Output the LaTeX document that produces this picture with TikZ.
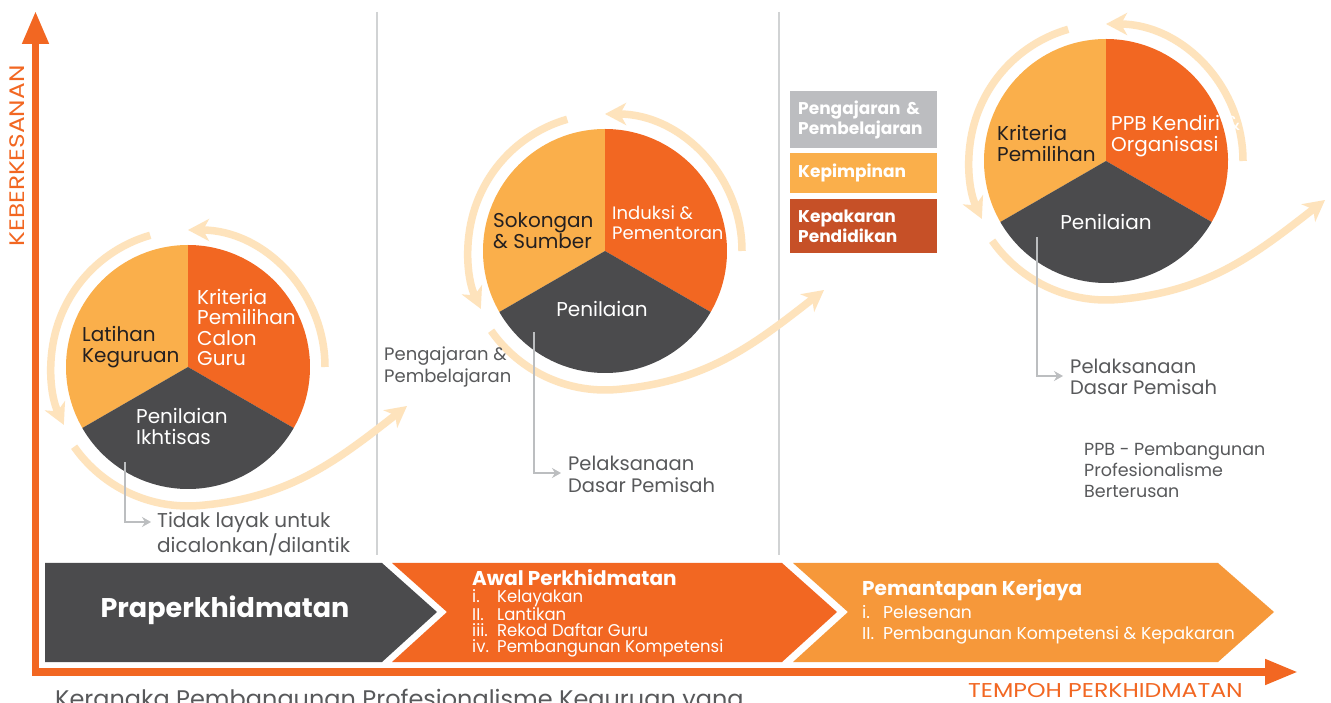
\documentclass[tikz,border=0pt]{standalone}
\usepackage{fontspec}
\setmainfont{Poppins}
\newfontfamily\condfont[FakeStretch=0.97]{Poppins}
\newfontfamily\widefont[FakeStretch=1.18]{Poppins}
\usetikzlibrary{arrows.meta,calc}
\definecolor{orng}{HTML}{F26722}
\definecolor{plight}{HTML}{FAAF4B}
\definecolor{pdark}{HTML}{4B4B4D}
\definecolor{chevc}{HTML}{F6983A}
\definecolor{ringc}{HTML}{FEE3BC}
\definecolor{leggray}{HTML}{BCBDC0}
\definecolor{legred}{HTML}{C65027}
\definecolor{conng}{HTML}{BCBEC0}
\definecolor{txtg}{HTML}{58595B}
\definecolor{sepg}{HTML}{D1D3D4}
\definecolor{dtext}{HTML}{231F20}
\newcommand{\pieGroup}[1]{%
  \fill[plight] (#1) -- ($(#1)+(90:122pt)$) arc[start angle=90,end angle=210,radius=122pt] -- cycle;
  \fill[orng] (#1) -- ($(#1)+(-30:122pt)$) arc[start angle=-30,end angle=90,radius=122pt] -- cycle;
  \fill[pdark] (#1) -- ($(#1)+(210:122pt)$) arc[start angle=210,end angle=330,radius=122pt] -- cycle;
  \draw[ring] ($(#1)+(106:137pt)$) arc[start angle=106,end angle=205,radius=137pt];
  \draw[ring] ($(#1)+(0:137pt)$) arc[start angle=0,end angle=90,radius=137pt];
  \draw[ring] ($(#1)+(215:139pt)$) arc[start angle=215,end angle=275,radius=139pt]
     to[out=5,in=218] ($(#1)+(219,-39)$);
}
\begin{document}
\begin{tikzpicture}[x=1pt,y=1pt,
  ring/.style={draw=ringc,line width=7.5pt,-{Stealth[length=21pt,width=22pt,inset=6pt]}},
  conn/.style={draw=conng,line width=2.6pt,-{Stealth[length=9pt,width=10pt,inset=3pt]}},
  axisline/.style={draw=orng,line width=7.5pt,line join=miter},
  sep/.style={draw=sepg,line width=1.4pt},
  lbl/.style={inner sep=0pt,align=left,font=\fontsize{20}{20.5}\selectfont},
  graytxt/.style={inner sep=0pt,align=left,text=txtg,font=\fontsize{20}{21.5}\selectfont},
  legbox/.style={anchor=north west,inner xsep=8pt,inner ysep=0pt,text width=131pt,minimum width=147pt,
     align=left,text=white,font=\fontsize{17}{20}\selectfont\bfseries}
]
\useasboundingbox (0,0) rectangle (1331,702);
\fill[white] (0,0) rectangle (1331,702);
\clip (0,0) rectangle (1331,702);

% separators
\coordinate (s1t) at (377,690); \coordinate (s1b) at (377,147);
\coordinate (s2t) at (779,690); \coordinate (s2b) at (779,147);
\draw[sep] (s1t) -- (s1b);
\draw[sep] (s2t) -- (s2b);

% axes
\coordinate (ytip) at (35.5,691);
\coordinate (orig) at (35.5,30);
\coordinate (xtip) at (1298,30);
\draw[axisline,{Triangle[length=33pt,width=25pt]}-{Triangle[length=33pt,width=24pt]}] (ytip) -- (orig) -- (xtip);
\node[rotate=90,text=orng,inner sep=0pt,font=\widefont\fontsize{21}{21}\selectfont] (ylab) at (17,546) {KEBERKESANAN};
\node[anchor=west,text=orng,inner sep=0pt,font=\widefont\fontsize{20}{20}\selectfont] (xlab) at (968,11) {TEMPOH PERKHIDMATAN};

% pies
\coordinate (c1) at (188,335);
\coordinate (c2) at (605,451);
\coordinate (c3) at (1106,541);
\pieGroup{c1}
\pieGroup{c2}
\pieGroup{c3}

% pie labels
\node[lbl,anchor=west,text=dtext] (p1a) at (82,355) {Latihan\\Keguruan};
\node[lbl,anchor=west,text=white] (p1b) at (197,374.5) {Kriteria\\Pemilihan\\Calon\\Guru};
\node[lbl,anchor=west,text=white] (p1c) at (136,275.5) {Penilaian\\Ikhtisas};
\node[lbl,anchor=west,text=dtext] (p2a) at (493,471.5) {Sokongan\\\& Sumber};
\node[lbl,anchor=west,text=white,font=\fontsize{18}{20.5}\selectfont] (p2b) at (612,479.5) {Induksi \&\\Pementoran};
\node[lbl,text=white] (p2c) at (602,393) {Penilaian};
\node[lbl,anchor=west,text=dtext] (p3a) at (997,558.5) {Kriteria\\Pemilihan};
\node[lbl,anchor=west,text=white] (p3b) at (1111,566) {PPB Kendiri \&\\Organisasi};
\node[lbl,text=white] (p3c) at (1106,480) {Penilaian};

% connectors
\coordinate (k1a) at (125,240); \coordinate (k1b) at (151,180);
\coordinate (k2a) at (534,370); \coordinate (k2b) at (561,229);
\coordinate (k3a) at (1037,465); \coordinate (k3b) at (1063,326);
\draw[conn] (k1a) |- (k1b);
\draw[conn] (k2a) |- (k2b);
\draw[conn] (k3a) |- (k3b);
\node[graytxt,anchor=west] (t1) at (157,168) {Tidak layak untuk\\dicalonkan/dilantik};
\node[graytxt,anchor=west,font=\fontsize{19.5}{21.5}\selectfont] (t2) at (568,227.5) {Pelaksanaan\\Dasar Pemisah};
\node[graytxt,anchor=west,font=\fontsize{19.5}{21.5}\selectfont] (t3) at (1070,325) {Pelaksanaan\\Dasar Pemisah};
\node[graytxt,anchor=west,font=\fontsize{18}{21.5}\selectfont] (t4) at (384,335) {Pengajaran \&\\Pembelajaran};
\node[graytxt,anchor=west,font=\fontsize{17.5}{21}\selectfont] (t5) at (1084,232) {PPB - Pembangunan\\Profesionalisme\\Berterusan};

% legend
\node[legbox,fill=leggray,minimum height=57pt] (lg1) at (790,611) {Pengajaran \&\\Pembelajaran};
\node[legbox,fill=plight,minimum height=40pt] (lg2) at (790,549) {Kepimpinan};
\node[legbox,fill=legred,minimum height=54pt] (lg3) at (790,503) {Kepakaran\\Pendidikan};

% chevrons
\fill[pdark] (45,139) -- (382,139) -- (437,90) -- (382,40) -- (45,40) -- cycle;
\fill[orng] (392,139) -- (782,139) -- (837,90) -- (782,40) -- (392,40) -- (447,90) -- cycle;
\fill[chevc] (793,139) -- (1218,139) -- (1274,90) -- (1218,40) -- (793,40) -- (848,90) -- cycle;
\node[text=white,inner sep=0pt,font=\fontsize{27}{27}\selectfont\bfseries] (ch1) at (225,92) {Praperkhidmatan};
\node[anchor=west,text=white,inner sep=0pt,font=\fontsize{20}{20}\selectfont\bfseries] (ch2t) at (472,124) {Awal Perkhidmatan};
\node[anchor=west,text=white,inner sep=0pt,align=left,font=\condfont\fontsize{17}{16}\selectfont] (ch2l) at (472,78.5)
  {\makebox[25pt][l]{i.}Kelayakan\\\makebox[25pt][l]{II.}Lantikan\\\makebox[25pt][l]{iii.}Rekod Daftar Guru\\\makebox[25pt][l]{iv.}Pembangunan Kompetensi};
\node[anchor=west,text=white,inner sep=0pt,font=\fontsize{20}{20}\selectfont\bfseries] (ch3t) at (862,112) {Pemantapan Kerjaya};
\node[anchor=west,text=white,inner sep=0pt,align=left,font=\fontsize{17.2}{21}\selectfont] (ch3l) at (862,77)
  {\makebox[21pt][l]{i.}Pelesenan\\\makebox[21pt][l]{II.}Pembangunan Kompetensi \& Kepakaran};

% caption (cut by the lower edge)
\node[anchor=base west,inner sep=0pt,text=txtg,font=\fontsize{24}{24}\selectfont] (cap) at (55,-5) {Kerangka Pembangunan Profesionalisme Keguruan yang};
\end{tikzpicture}
\end{document}
